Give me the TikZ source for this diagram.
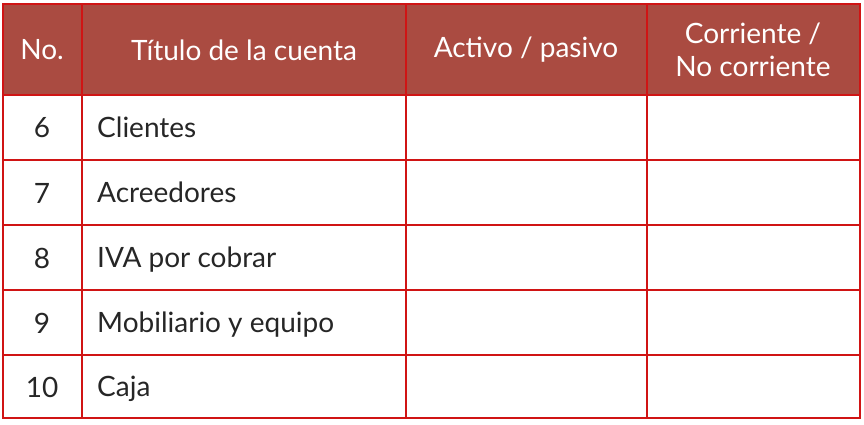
\documentclass[tikz,border=0pt]{standalone}
\usepackage{fontspec}
\setmainfont{Lato}
\usepackage{xcolor}
\usepackage{tikz}
\definecolor{headred}{RGB}{170,75,65}
\definecolor{rulered}{RGB}{208,20,20}
\tikzset{
  head text/.style={text=white,font=\fontsize{28}{33}\selectfont,align=center,inner sep=0pt},
  body text/.style={text=black!85,font=\fontsize{28}{33}\selectfont,inner sep=0pt},
  rule/.style={draw=rulered,line width=1.6pt}
}
\begin{document}
\begin{tikzpicture}[x=1pt,y=-1pt]
  \useasboundingbox (0,0) rectangle (864,424);
  % header
  \fill[headred] (3,4) rectangle (860,95);
  % grid
  \draw[rule] (3,4) rectangle (860,418);
  \draw[rule] (82,4) -- (82,418);
  \draw[rule] (406,4) -- (406,418);
  \draw[rule] (647,4) -- (647,418);
  \draw[rule] (3,95) -- (860,95);
  \draw[rule] (3,160) -- (860,160);
  \draw[rule] (3,225) -- (860,225);
  \draw[rule] (3,290) -- (860,290);
  \draw[rule] (3,355) -- (860,355);
  % header texts
  \node[head text] (no) at (42,50) {No.};
  \node[head text] (titulo) at (244,50) {Título de la cuenta};
  \node[head text] (activo) at (526,50) {Activo / pasivo};
  \node[head text] (corriente) at (753,50) {Corriente /\\No corriente};
  % rows
  \node[body text] (n6) at (42,128) {6};
  \node[body text] (n7) at (42,193) {7};
  \node[body text] (n8) at (42,258) {8};
  \node[body text] (n9) at (42,323) {9};
  \node[body text] (n10) at (42,387) {10};
  \node[body text,anchor=base west] (clientes) at (97,137) {Clientes};
  \node[body text,anchor=base west] (acreedores) at (97,202) {Acreedores};
  \node[body text,anchor=base west] (iva) at (97,267) {IVA por cobrar};
  \node[body text,anchor=base west] (mobiliario) at (97,332) {Mobiliario y equipo};
  \node[body text,anchor=base west] (caja) at (97,396) {Caja};
\end{tikzpicture}
\end{document}
